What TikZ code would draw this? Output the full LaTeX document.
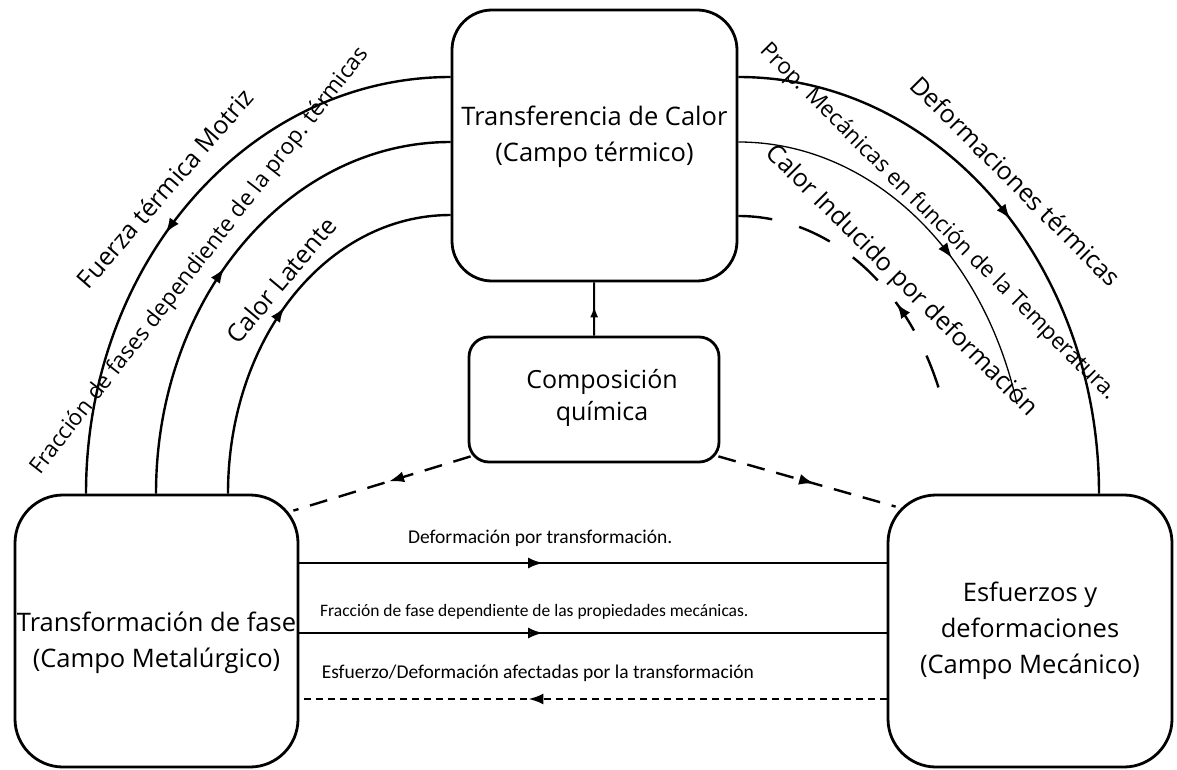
\documentclass[tikz,border=0pt]{standalone}
\usepackage{fontspec}
\setmainfont{Open Sans}
\newfontfamily\calibfont{Carlito}
\usetikzlibrary{arrows.meta, decorations.markings}

\begin{document}
\begin{tikzpicture}[
        x=1pt, y=-1pt,
        field/.style={draw, line width=2.8pt, rounded corners=48pt},
        fieldtext/.style={align=center, font=\fontsize{25.5}{36}\selectfont},
        link/.style={line width=2.4pt},
        dashlink/.style={link, dash pattern=on 18pt off 12pt},
        flow/.style={postaction={decorate, decoration={markings, mark=at position #1 with {\arrow{Latex[length=15pt,width=11pt]}}}}},
        backflow/.style={postaction={decorate, decoration={markings, mark=at position #1 with {\arrowreversed{Latex[length=15pt,width=11pt]}}}}},
        arclabel/.style={font=\fontsize{25}{30}\selectfont},
        longlabel/.style={font=\fontsize{22.5}{27}\selectfont},
        linelabel/.style={font=\calibfont\fontsize{19.5}{23}\selectfont}
    ]
    \useasboundingbox (0,0) rectangle (1177,770);

    % campos
    \node[field, minimum width=285pt, minimum height=271pt, rounded corners=40pt,
        label={[fieldtext, yshift=9pt]center:{Transferencia de Calor\\(Campo térmico)}}] (ter) at (594.5,145.5) {};
    \node[field, minimum width=250pt, minimum height=125pt, rounded corners=20pt,
        label={[fieldtext, font=\fontsize{25}{32}\selectfont, xshift=8pt, yshift=2pt]center:{Composición\\química}}] (comp) at (594,399.5) {};
    \node[field, minimum width=283pt, minimum height=272pt,
        label={[fieldtext, yshift=-12pt]center:{Transformación de fase\\(Campo Metalúrgico)}}] (met) at (156.5,631) {};
    \node[field, fieldtext, minimum width=284pt, minimum height=272pt] (mec) at (1030,631) {Esfuerzos y\\deformaciones\\(Campo Mecánico)};

    % lado izquierdo
    \draw[link, backflow=0.45] (met.north -| 86,0) .. controls +(0,-231) and +(-202,0) .. (ter.west |- 0,77);
    \draw[link, flow=0.47] (met.north -| 156,0) .. controls +(0,-195) and +(-163,0) .. (ter.west |- 0,142);
    \draw[link, flow=0.5] (met.north -| 228,0) .. controls +(0,-155) and +(-124,0) .. (ter.west |- 0,215);
    \node[arclabel, rotate=49] (fuerza) at (165,188) {Fuerza térmica Motriz};
    \node[longlabel, rotate=52] (fases) at (200,261) {Fracción de fases dependiente de la prop. térmicas};
    \node[arclabel, rotate=50] (latente) at (281,280) {Calor Latente};

    % lado derecho
    \coordinate (propend) at (1017,404);
    \coordinate (inducend) at (943,403);
    \draw[link, flow=0.52] (ter.east |- 0,77) .. controls +(200,0) and +(0,-231) .. (mec.north -| 1099,0);
    \draw[line width=1.3pt, flow=0.61] (ter.east |- 0,142) .. controls +(131,0) and +(-34,-154) .. (propend);
    \draw[link, dash pattern=on 34pt off 28pt, backflow=0.63] (ter.east |- 0,216) .. controls +(93,0) and +(-30,-113) .. (inducend);
    \node[arclabel, rotate=-45] (deftermicas) at (1016,181) {Deformaciones térmicas};
    \node[longlabel, rotate=-45] (propmec) at (938,222) {Prop. Mecánicas en función de la Temperatura.};
    \node[arclabel, rotate=-45] (inducido) at (901,281) {Calor Inducido por deformación};

    % composicion
    \draw[line width=2pt, postaction={decorate, decoration={markings, mark=at position 0.55 with {\arrow{Latex[length=11pt,width=8pt]}}}}] (comp) -- (ter);
    \draw[dashlink, flow=0.46] ([shift={(3,-7)}]comp.south west) -- ([shift={(-6,17)}]met.north east);
    \draw[dashlink, flow=0.54] ([shift={(-2,-7)}]comp.south east) -- ([shift={(9,13)}]mec.north west);

    % acoplamiento mecanico
    \draw[link, flow=0.415] (met.east |- 0,563) -- (mec.west |- 0,563)
        node[linelabel, pos=0.41, yshift=25pt] {Deformación por transformación.};
    \draw[link, postaction={decorate, decoration={markings, mark=at position 0.415 with {\arrow{Latex[open,length=15pt,width=11pt]}}}}] (met.east |- 0,633) -- (mec.west |- 0,633)
        node[linelabel, font=\calibfont\fontsize{17.5}{21}\selectfont, pos=0.4, yshift=21pt] {Fracción de fase dependiente de las propiedades mecánicas.};
    \draw[link, dash pattern=on 7pt off 5pt, flow=0.61] (mec.west |- 0,699) -- (met.east |- 0,699)
        node[linelabel, pos=0.594, yshift=26pt] {Esfuerzo/Deformación afectadas por la transformación};
\end{tikzpicture}
\end{document}
